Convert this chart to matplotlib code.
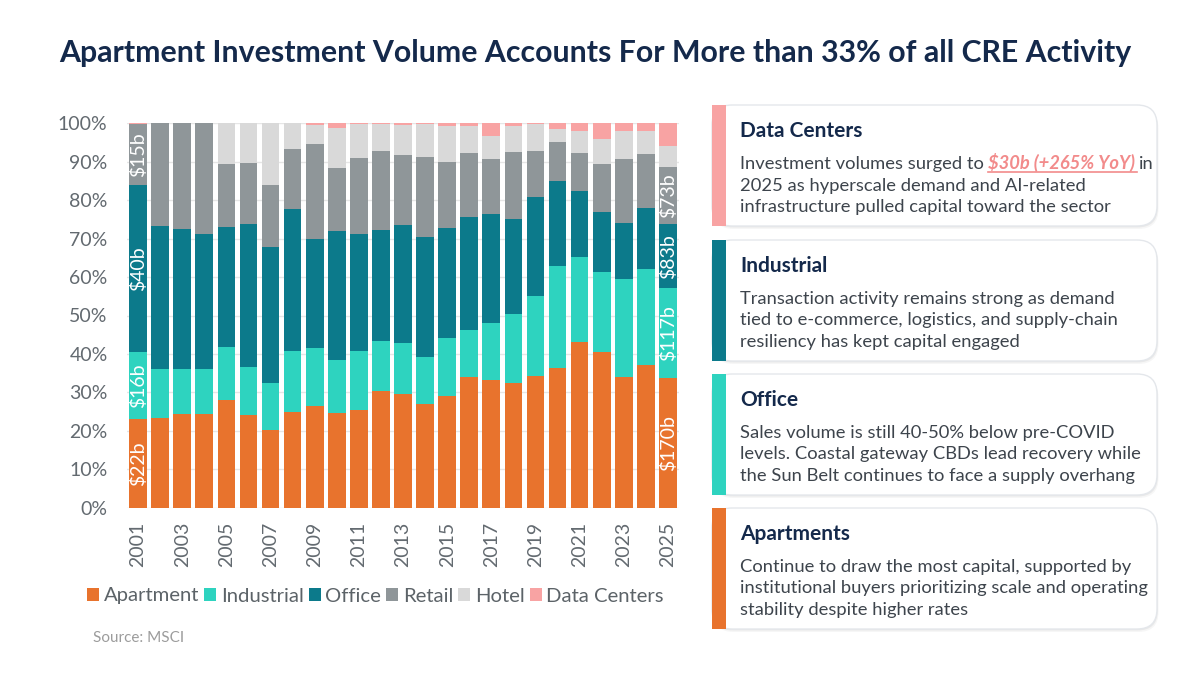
import matplotlib
matplotlib.use("Agg")
import matplotlib.pyplot as plt
from matplotlib.patches import FancyBboxPatch, Rectangle, Patch
import numpy as np

plt.rcParams['font.family'] = ['Lato', 'DejaVu Sans']

years = [str(y) for y in range(2001, 2026)]
categories = ["Apartment", "Industrial", "Office", "Retail", "Hotel", "Data Centers"]
colors = ["#E8732D", "#2ED3BF", "#0C7A8B", "#8F9699", "#D9D9D9", "#F8A3A3"]

# share of annual volume, %
apartment = [23.0, 23.4, 24.3, 24.4, 28.0, 24.1, 20.2, 25.0, 26.5, 24.7, 25.3, 30.4, 29.6,
             27.1, 29.1, 33.9, 33.2, 32.4, 34.3, 36.4, 43.0, 40.6, 33.9, 37.1, 33.8]
industrial = [17.5, 12.6, 11.9, 11.7, 13.8, 12.6, 12.2, 15.8, 15.0, 13.7, 15.5, 13.0, 13.3,
              12.2, 15.0, 12.2, 14.9, 18.0, 20.9, 26.5, 22.2, 20.7, 25.5, 24.9, 23.4]
office = [43.5, 37.3, 36.2, 35.2, 31.1, 37.2, 35.3, 37.0, 28.5, 33.5, 30.5, 28.8, 30.6,
          31.0, 28.7, 29.6, 28.4, 24.8, 25.5, 22.1, 17.3, 15.7, 14.7, 16.0, 16.5]
retail = [15.7, 26.7, 27.6, 28.7, 16.5, 15.8, 16.3, 15.4, 24.7, 16.6, 19.6, 20.6, 18.3,
          21.0, 17.2, 16.5, 14.1, 17.4, 12.1, 10.2, 9.9, 12.4, 16.5, 14.1, 15.0]
hotel = [0.0, 0.0, 0.0, 0.0, 10.6, 10.3, 16.0, 6.8, 4.9, 10.4, 8.9, 7.0, 7.8,
         8.5, 9.4, 7.2, 6.1, 6.7, 7.0, 3.2, 5.7, 6.6, 7.5, 6.0, 5.5]
data_centers = [0.3, 0.0, 0.0, 0.0, 0.0, 0.0, 0.0, 0.0, 0.4, 1.1, 0.2, 0.2, 0.4,
                0.2, 0.6, 0.6, 3.3, 0.7, 0.2, 1.6, 1.9, 4.0, 1.9, 1.9, 5.8]

first_labels = ["$22b", "$16b", "$40b", "$15b"]
last_labels = ["$170b", "$117b", "$83b", "$73b"]

title = "Apartment Investment Volume Accounts For More than 33% of all CRE Activity"
cards = [
    ("Data Centers", colors[5], [None,
                                 "2025 as hyperscale demand and AI-related",
                                 "infrastructure pulled capital toward the sector"]),
    ("Industrial", colors[2], ["Transaction activity remains strong as demand",
                               "tied to e-commerce, logistics, and supply-chain",
                               "resiliency has kept capital engaged"]),
    ("Office", colors[1], ["Sales volume is still 40-50% below pre-COVID",
                           "levels. Coastal gateway CBDs lead recovery while",
                           "the Sun Belt continues to face a supply overhang"]),
    ("Apartments", colors[0], ["Continue to draw the most capital, supported by",
                               "institutional buyers prioritizing scale and operating",
                               "stability despite higher rates"]),
]

series = [apartment, industrial, office, retail, hotel, data_centers]

W, H = 1200, 675
fig = plt.figure(figsize=(12, 6.75), dpi=100)
fig.patch.set_facecolor("white")

ax = fig.add_axes([127 / W, 1 - 507.7 / H, 552 / W, 384.4 / H])
x = np.arange(len(years))
bottom = np.zeros(len(years))
for vals, col in zip(series, colors):
    ax.bar(x, vals, bottom=bottom, width=0.8, color=col, linewidth=0, zorder=2)
    bottom += np.array(vals)

# value labels in first and last bars
for i in range(4):
    lo0 = sum(s[0] for s in series[:i])
    lo1 = sum(s[-1] for s in series[:i])
    ax.text(x[0], lo0 + series[i][0] / 2, first_labels[i], rotation=90, ha="center",
            va="center", color="white", fontsize=14, parse_math=False, zorder=3)
    ax.text(x[-1], lo1 + series[i][-1] / 2, last_labels[i], rotation=90, ha="center",
            va="center", color="white", fontsize=14, parse_math=False, zorder=3)

ax.set_xlim(-0.5, len(years) - 0.5)
ax.set_ylim(0, 100)
ax.set_yticks(np.arange(0, 101, 10))
ax.set_yticklabels([f"{v}%" for v in range(0, 101, 10)])
ax.set_xticks(x[::2])
ax.set_xticklabels(years[::2], rotation=90)
ax.tick_params(length=0, labelsize=14, labelcolor="#636a70")
ax.tick_params(axis="y", pad=14)
ax.tick_params(axis="x", pad=10)
ax.grid(axis="y", color="#e6e6e6", linewidth=1, zorder=0)
ax.set_axisbelow(True)
for sp in ax.spines.values():
    sp.set_visible(False)

handles = [Patch(facecolor=c, edgecolor="none") for c in colors]
fig.legend(handles, categories, loc="center left", bbox_to_anchor=(87 / W, 1 - 596 / H),
           ncol=6, frameon=False, fontsize=14.6, handlelength=0.6, handleheight=0.6,
           handletextpad=0.22, columnspacing=0.25, borderpad=0, borderaxespad=0,
           labelcolor="#5c6368")

fig.text(93 / W, 1 - 638 / H, "Source: MSCI", fontsize=11, color="#9c9c9c", va="center")
fig.text(595 / W, 1 - 53 / H, title, fontsize=21.8, fontweight="bold", color="#14294B",
         ha="center", va="center")

# cards drawn in pixel coordinates
ov = fig.add_axes([0, 0, 1, 1])
ov.set_xlim(0, W)
ov.set_ylim(H, 0)
ov.axis("off")

card_tops = [105, 240, 374, 508]
card_h = 121
cx0, cx1 = 712, 1157
body_color = "#3d444c"
body_size = 13.2
for (head, col, lines), top in zip(cards, card_tops):
    for k, a in ((3, 0.035), (1.5, 0.05)):
        ov.add_patch(FancyBboxPatch((cx0 + k * 0.5, top + k), cx1 - cx0, card_h,
                                    boxstyle="round,pad=0,rounding_size=20",
                                    facecolor="black", edgecolor="none", alpha=a))
    ov.add_patch(FancyBboxPatch((cx0, top), cx1 - cx0, card_h,
                                boxstyle="round,pad=0,rounding_size=20",
                                facecolor="white", edgecolor="#e4e7eb", linewidth=1))
    ov.add_patch(Rectangle((cx0, top), 14, card_h, facecolor=col, edgecolor="none"))
    ov.text(740, top + 32, head, fontsize=15, fontweight="bold", color="#14294B", va="baseline")
    for j, ln in enumerate(lines):
        if ln is None:
            continue
        ov.text(740, top + 64 + 21.5 * j, ln, fontsize=body_size, color=body_color,
                va="baseline")

# first line of data centers card with highlighted figure
fig.canvas.draw()
r = fig.canvas.get_renderer()
y0 = card_tops[0] + 64
t1 = ov.text(740, y0, "Investment volumes surged to", fontsize=body_size, color=body_color,
             va="baseline")
x2 = 740 + t1.get_window_extent(r).width + 4.5
t2 = ov.text(x2, y0, "$30b (+265% YoY)", fontsize=body_size, color="#F28B8B",
             fontweight="bold", fontstyle="italic", va="baseline", parse_math=False)
w2 = t2.get_window_extent(r).width
ov.plot([x2, x2 + w2 + 2], [y0 + 3, y0 + 3], color="#F28B8B", lw=1.2)
ov.text(x2 + w2 + 4, y0, "in", fontsize=body_size, color=body_color, va="baseline")

fig.savefig("out.png", dpi=100, facecolor="white")
